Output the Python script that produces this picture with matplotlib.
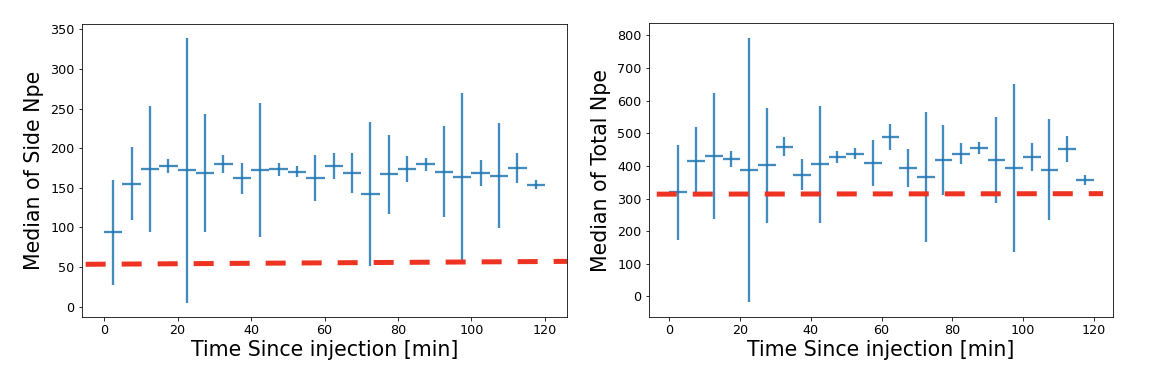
import matplotlib
matplotlib.use("Agg")
import matplotlib.pyplot as plt
import numpy as np

# time bins [min], 5 min wide
time_centers = np.arange(2.5, 120, 5.0)
time_halfwidth = 2.5

side_median = [93.8, 155, 173.7, 177.5, 172, 168.7, 179.6, 162, 172, 173.7, 170.4, 162,
               177.5, 168.7, 141.8, 167, 173.7, 179.6, 170.4, 163.6, 168.7, 165.3, 175.4, 153.6]
side_err = [66, 46, 80, 9, 167.5, 74, 11.5, 19.5, 84.5, 8.2, 6.5, 29,
            16, 25, 91, 50, 16, 8, 57, 106.5, 17, 66, 19, 5.7]

total_median = [319.4, 413.7, 431, 421.8, 388.3, 401.5, 459.3, 373, 404.6, 427.9, 438, 409.6,
                488.7, 393.4, 365, 417.7, 438, 455.3, 417.7, 393.4, 427.9, 388.3, 451.2, 356]
total_err = [145, 105, 194, 24, 404, 176, 28, 47, 180, 18, 15.5, 71,
             38.5, 59.5, 199, 106.5, 32, 19, 131, 256.5, 42, 154, 40.5, 15.5]

# reference level lines
side_ref_x = [-5, 126]
side_ref_y = [53.5, 57.2]
total_ref_x = [-3.6, 122.7]
total_ref_y = [313.5, 315]

fig = plt.figure(figsize=(1159 / 72, 384 / 72), dpi=72)
ax1 = fig.add_axes([82 / 1159, 67 / 384, 485 / 1159, 293 / 384])
ax2 = fig.add_axes([649 / 1159, 67 / 384, 464 / 1159, 294 / 384])

for ax, med, err, rx, ry, lab in [
        (ax1, side_median, side_err, side_ref_x, side_ref_y, "Median of Side Npe"),
        (ax2, total_median, total_err, total_ref_x, total_ref_y, "Median of Total Npe")]:
    ax.errorbar(time_centers, med, yerr=err, xerr=time_halfwidth, fmt="none",
                ecolor="#1f77b4", elinewidth=2.3, alpha=0.85)
    ax.plot(rx, ry, color="#ee3322", lw=5, dashes=(4, 3.2), dash_capstyle="butt")
    ax.set_xlabel("Time Since injection [min]", fontsize=20.5, labelpad=3)
    ax.set_ylabel(lab, fontsize=20.5, labelpad=6)
    ax.tick_params(labelsize=12.8, pad=4)

ax1.set_xlim(-6, 126)
ax1.set_ylim(-13, 356.7)
ax1.set_yticks(np.arange(0, 351, 50))
ax2.set_xlim(-5.8, 125.5)
ax2.set_ylim(-63, 838)
ax2.set_yticks(np.arange(0, 801, 100))
for ax in (ax1, ax2):
    ax.set_xticks(np.arange(0, 121, 20))

fig.savefig("out.png", dpi=72)
